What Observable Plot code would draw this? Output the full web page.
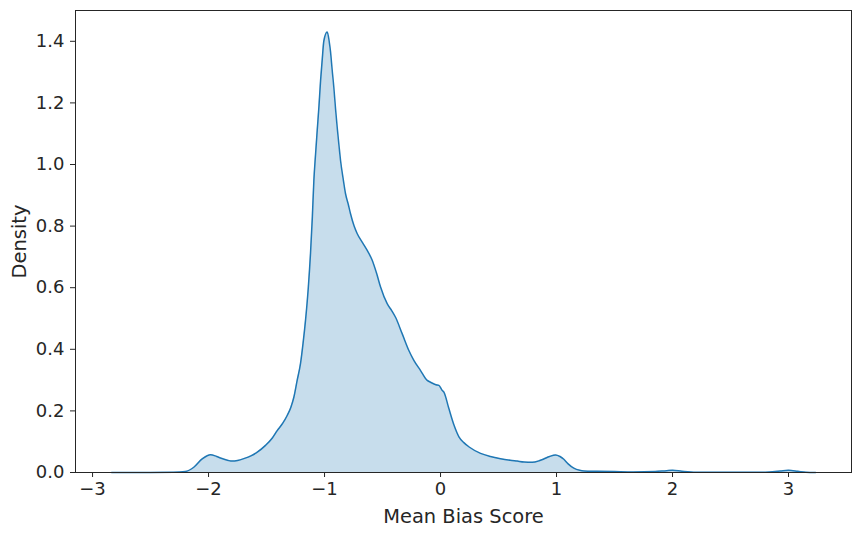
<!DOCTYPE html>
<html>
<head>
<meta charset="utf-8">
<script src="https://cdn.jsdelivr.net/npm/d3@7"></script>
<script src="https://cdn.jsdelivr.net/npm/@observablehq/plot@0.6"></script>
<style>
  html, body { margin: 0; padding: 0; background: #fff; }
</style>
</head>
<body>
<div id="chart"></div>
<script>
// Mean Bias Score grid (x) and estimated KDE density (y)
const scoreX = [-2.836, -2.5, -2.3, -2.2, -2.127, -2.055, -1.983, -1.93, -1.897, -1.83, -1.796, -1.75, -1.696, -1.63, -1.58, -1.509, -1.45, -1.408, -1.36, -1.322, -1.29, -1.264, -1.236, -1.207, -1.185, -1.164, -1.14, -1.121, -1.105, -1.092, -1.078, -1.063, -1.048, -1.034, -1.02, -1.006, -0.977, -0.96, -0.948, -0.935, -0.92, -0.905, -0.891, -0.875, -0.862, -0.84, -0.819, -0.795, -0.776, -0.745, -0.718, -0.67, -0.632, -0.589, -0.55, -0.517, -0.46, -0.42, -0.388, -0.33, -0.273, -0.23, -0.172, -0.115, -0.086, -0.04, -0.014, 0.015, 0.029, 0.07, 0.115, 0.16, 0.201, 0.25, 0.345, 0.43, 0.517, 0.6, 0.661, 0.72, 0.79, 0.85, 0.89, 0.94, 0.991, 1.03, 1.063, 1.1, 1.149, 1.2, 1.236, 1.35, 1.5, 1.66, 1.85, 1.95, 2.0, 2.08, 2.2, 2.5, 2.8, 2.93, 3.0, 3.08, 3.15, 3.233];
const densityY = [0, 0, 0.0005, 0.003, 0.017, 0.044, 0.058, 0.052, 0.047, 0.039, 0.037, 0.039, 0.045, 0.055, 0.066, 0.088, 0.112, 0.136, 0.16, 0.185, 0.212, 0.245, 0.299, 0.354, 0.42, 0.494, 0.6, 0.711, 0.83, 0.948, 1.03, 1.111, 1.19, 1.273, 1.34, 1.401, 1.43, 1.4, 1.365, 1.31, 1.251, 1.18, 1.121, 1.06, 1.013, 0.955, 0.905, 0.87, 0.84, 0.8, 0.775, 0.745, 0.721, 0.689, 0.645, 0.602, 0.548, 0.525, 0.504, 0.45, 0.396, 0.364, 0.331, 0.299, 0.293, 0.285, 0.283, 0.266, 0.261, 0.21, 0.155, 0.115, 0.097, 0.082, 0.062, 0.052, 0.045, 0.04, 0.037, 0.034, 0.033, 0.038, 0.044, 0.052, 0.057, 0.052, 0.043, 0.028, 0.014, 0.007, 0.005, 0.004, 0.003, 0.002, 0.003, 0.006, 0.007, 0.004, 0.001, 0.0005, 0.001, 0.005, 0.007, 0.004, 0.001, 0];
const xTicks = [-3, -2, -1, 0, 1, 2, 3];
const yTicks = [0, 0.2, 0.4, 0.6, 0.8, 1.0, 1.2, 1.4];

const data = scoreX.map((x, i) => ({x, y: densityY[i]}));
const ink = "#262626";
const blue = "#1f77b4";

const chart = Plot.plot({
  width: 860,
  height: 535,
  marginLeft: 75,
  marginRight: 9,
  marginTop: 10,
  marginBottom: 63,
  style: {fontFamily: "DejaVu Sans", fontSize: "18px", color: ink, background: "#fff"},
  x: {domain: [-3.147, 3.543]},
  y: {domain: [0, 1.5]},
  marks: [
    Plot.areaY(data, {x: "x", y: "y", fill: blue, fillOpacity: 0.25, curve: "monotone-x"}),
    Plot.lineY(data, {x: "x", y: "y", stroke: blue, strokeWidth: 1.5, curve: "monotone-x"}),
    Plot.axisX({ticks: xTicks, tickSize: 5, tickPadding: 5, stroke: ink, fill: ink, fontSize: 18,
      tickFormat: d3.format("d"), label: null}),
    Plot.axisX({ticks: [], tickSize: 0, fill: ink, fontSize: 19.44,
      label: "Mean Bias Score", labelAnchor: "center", labelArrow: "none", labelOffset: 50}),
    Plot.axisY({ticks: yTicks, tickSize: 5, tickPadding: 6, stroke: ink, fill: ink, fontSize: 18,
      tickFormat: d3.format(".1f"), label: null}),
    Plot.axisY({ticks: [], tickSize: 0, fill: ink, fontSize: 19.44,
      label: "Density", labelAnchor: "center", labelArrow: "none", labelOffset: 63}),
    Plot.frame({stroke: ink, strokeWidth: 1})
  ]
});
document.getElementById("chart").appendChild(chart);
</script>
</body>
</html>
